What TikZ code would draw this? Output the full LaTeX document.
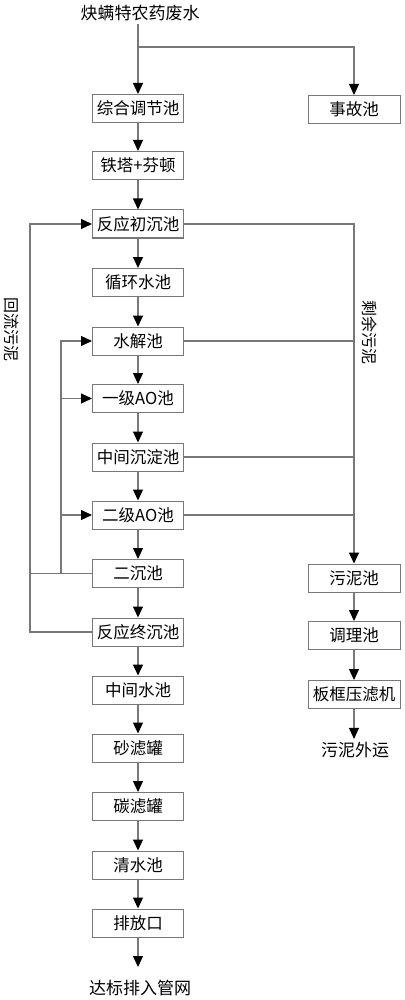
\documentclass[tikz,border=0pt]{standalone}
\usepackage{fontspec}
\setmainfont{Noto Sans CJK SC}
\usetikzlibrary{arrows.meta}
\definecolor{ln}{RGB}{120,120,120}
\tikzset{
  box/.style={draw=ln, line width=1pt, minimum width=91pt, minimum height=28pt, inner sep=0pt, font=\fontsize{16.5}{16.5}\selectfont},
  lbl/.style={inner sep=3pt, font=\fontsize{17}{17}\selectfont},
  vlbl/.style={inner sep=0pt, rotate=-90, font=\fontsize{16}{16}\selectfont},
  con/.style={draw=ln, line width=1.1pt},
  arr/.style={con, -{Triangle[width=10pt,length=11pt,fill=black,color=black]}}
}
\begin{document}
\begin{tikzpicture}[x=1pt,y=-1pt]
\useasboundingbox (0,0) rectangle (404,1000);
% main column
\node[lbl] (title) at (140,13) {炔螨特农药废水};
\node[box] (zh) at (138,108.5) {综合调节池};
\node[box] (tt) at (138,165.5) {铁塔+芬顿};
\node[box] (fc) at (138,224) {反应初沉池};
\node[box] (xh) at (138,282.5) {循环水池};
\node[box] (sj) at (138,341) {水解池};
\node[box] (ao1) at (138,398.5) {一级AO池};
\node[box] (zj) at (138,457) {中间沉淀池};
\node[box] (ao2) at (138,515) {二级AO池};
\node[box] (ec) at (138,573.5) {二沉池};
\node[box] (fz) at (138,632) {反应终沉池};
\node[box] (zs) at (138,690) {中间水池};
\node[box] (sl) at (138,748) {砂滤罐};
\node[box] (tl) at (138,806.5) {碳滤罐};
\node[box] (qs) at (138,865) {清水池};
\node[box] (pf) at (138,923) {排放口};
\node[lbl] (db) at (140,988) {达标排入管网};
\coordinate (pfend) at (138,967);
% right column
\node[box, minimum width=92pt] (sg) at (354,109.5) {事故池};
\node[box, minimum width=92pt] (wn) at (354,578) {污泥池};
\node[box, minimum width=92pt] (tl2) at (354,635.5) {调理池};
\node[box, minimum width=92pt] (bk) at (354,694.5) {板框压滤机};
\node[lbl] (wy) at (355,750) {污泥外运};
% labels
\node[vlbl] (hl) at (12,329) {回流污泥};
\node[vlbl] (sy) at (370,332) {剩余污泥};
% coordinates
\coordinate (br) at (138,47);
\coordinate (rtop) at (354,224);
\coordinate (la) at (30,573.5);
\coordinate (lb) at (30,632);
\coordinate (lc) at (30,224);
\coordinate (ia) at (61,573.5);
\coordinate (ib) at (61,341);
% main flow
\draw[arr] (title.south -| zh.north) -- (zh.north);
\draw[arr] (br) -| (sg.north);
\draw[arr] (zh) -- (tt);
\draw[arr] (tt) -- (fc);
\draw[arr] (fc) -- (xh);
\draw[arr] (xh) -- (sj);
\draw[arr] (sj) -- (ao1);
\draw[arr] (ao1) -- (zj);
\draw[arr] (zj) -- (ao2);
\draw[arr] (ao2) -- (ec);
\draw[arr] (ec) -- (fz);
\draw[arr] (fz) -- (zs);
\draw[arr] (zs) -- (sl);
\draw[arr] (sl) -- (tl);
\draw[arr] (tl) -- (qs);
\draw[arr] (qs) -- (pf);
\draw[arr] (pf) -- (pfend);
% sludge line
\draw[arr] (fc.east) -- (rtop) -- (wn.north);
\draw[con] (sj.east) -- (sj.east -| rtop);
\draw[con] (zj.east) -- (zj.east -| rtop);
\draw[con] (ao2.east) -- (ao2.east -| rtop);
\draw[arr] (wn) -- (tl2);
\draw[arr] (tl2) -- (bk);
\draw[arr] (bk) -- (wy.north -| bk.south);
% return sludge
\draw[con] (ec.west) -- (la);
\draw[arr] (fz.west) -- (lb) -- (lc) -- (fc.west);
\draw[arr] (ia) -- (ib) -- (sj.west);
\draw[arr] (ao1.west -| ib) -- (ao1.west);
\draw[arr] (ao2.west -| ib) -- (ao2.west);
\end{tikzpicture}
\end{document}
